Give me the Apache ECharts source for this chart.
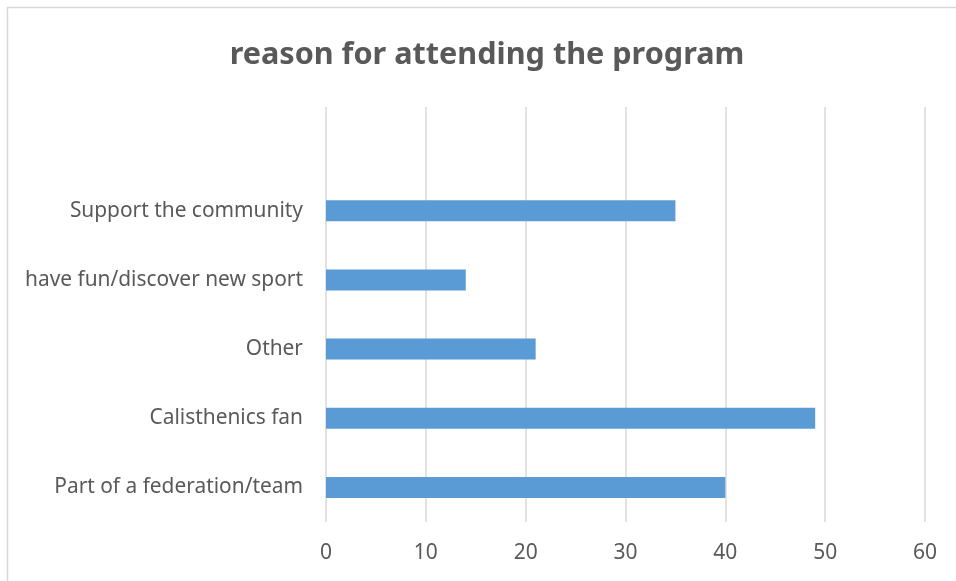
<!DOCTYPE html>
<html>
<head>
<meta charset="utf-8">
<script src="https://cdn.jsdelivr.net/npm/echarts@6/dist/echarts.min.js"></script>
<style>
  html, body { margin: 0; padding: 0; background: #fff; }
  #chart { width: 956px; height: 581px; }
</style>
</head>
<body>
<div id="chart"></div>
<script>
// Reasons given for attending, bottom to top; the blank top slot leaves headroom.
const categories = ['Part of a federation/team', 'Calisthenics fan', 'Other', 'have fun/discover new sport', 'Support the community', ''];
const counts = [40, 49, 21, 14, 35, null];
const xTicks = { min: 0, max: 60, interval: 10 };

const chart = echarts.init(document.getElementById('chart'), null, { renderer: 'canvas' });
const textColor = '#595959';
const fontFamily = '"Noto Sans", "Open Sans", sans-serif';

chart.setOption({
  animation: false,
  backgroundColor: '#fff',
  title: {
    text: 'reason for attending the program',
    left: 482,
    textAlign: 'center',
    top: 35,
    textStyle: { color: textColor, fontSize: 30.6, fontWeight: 'bold', fontFamily: fontFamily }
  },
  graphic: [{
    type: 'rect',
    shape: { x: 7.5, y: 7.5, width: 1000, height: 700 },
    style: { fill: 'none', stroke: '#d9d9d9', lineWidth: 1.5 },
    silent: true
  }],
  grid: { left: 326, right: 31, top: 107, bottom: 59, containLabel: false },
  xAxis: {
    type: 'value',
    min: xTicks.min,
    max: xTicks.max,
    interval: xTicks.interval,
    axisLine: { show: false },
    axisTick: { show: false },
    splitLine: { show: true, lineStyle: { color: '#d9d9d9', width: 1.5 } },
    axisLabel: { color: textColor, fontSize: 21, fontFamily: fontFamily, margin: 21 }
  },
  yAxis: {
    type: 'category',
    data: categories,
    axisLine: { show: false },
    axisTick: { show: false },
    axisLabel: { color: textColor, fontSize: 20.9, fontFamily: fontFamily, margin: 23 }
  },
  series: [{
    type: 'bar',
    data: counts,
    barWidth: 21,
    itemStyle: { color: '#5b9bd5' }
  }]
});
</script>
</body>
</html>
